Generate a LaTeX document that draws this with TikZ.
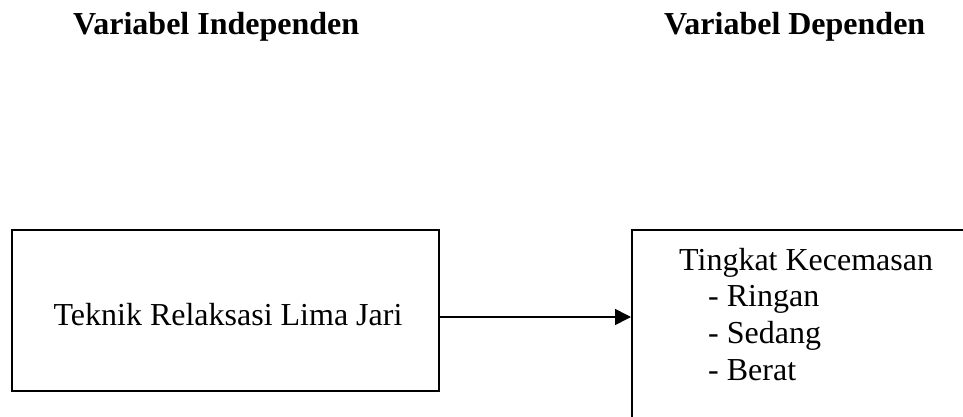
\documentclass[tikz,border=0pt]{standalone}
\usepackage{fontspec}
\setmainfont{Liberation Serif}
\usetikzlibrary{arrows.meta}
\begin{document}
\begin{tikzpicture}[x=1pt,y=1pt,
  box/.style={draw,line width=1.6pt,rectangle,inner sep=0pt,anchor=north west},
  txt/.style={inner sep=0pt,font=\fontsize{32}{37}\selectfont},
  head/.style={inner sep=0pt,anchor=base west,font=\fontsize{32}{37}\selectfont\bfseries}]
\useasboundingbox (0,0) rectangle (963,416);
\node[head] (h1) at (73,381) {Variabel Independen};
\node[head] (h2) at (664,381) {Variabel Dependen};
\node[box,minimum width=427pt,minimum height=161pt] (left) at (11,187) {};
\node[txt,anchor=base] (lt) at (228,91) {Teknik Relaksasi Lima Jari};
\node[box,minimum width=400pt,minimum height=230pt] (right) at (631,187) {};
\node[txt,anchor=base west] (r1) at (679,146) {Tingkat Kecemasan};
\node[txt,anchor=base west] (r2) at (708,110) {- Ringan};
\node[txt,anchor=base west] (r3) at (708,73) {- Sedang};
\node[txt,anchor=base west] (r4) at (708,36) {- Berat};
\coordinate (ay) at (0,99);
\draw[line width=1.6pt,-{Triangle[length=16pt,width=16pt]}] (left.east |- ay) -- (right.west |- ay);
\end{tikzpicture}
\end{document}
